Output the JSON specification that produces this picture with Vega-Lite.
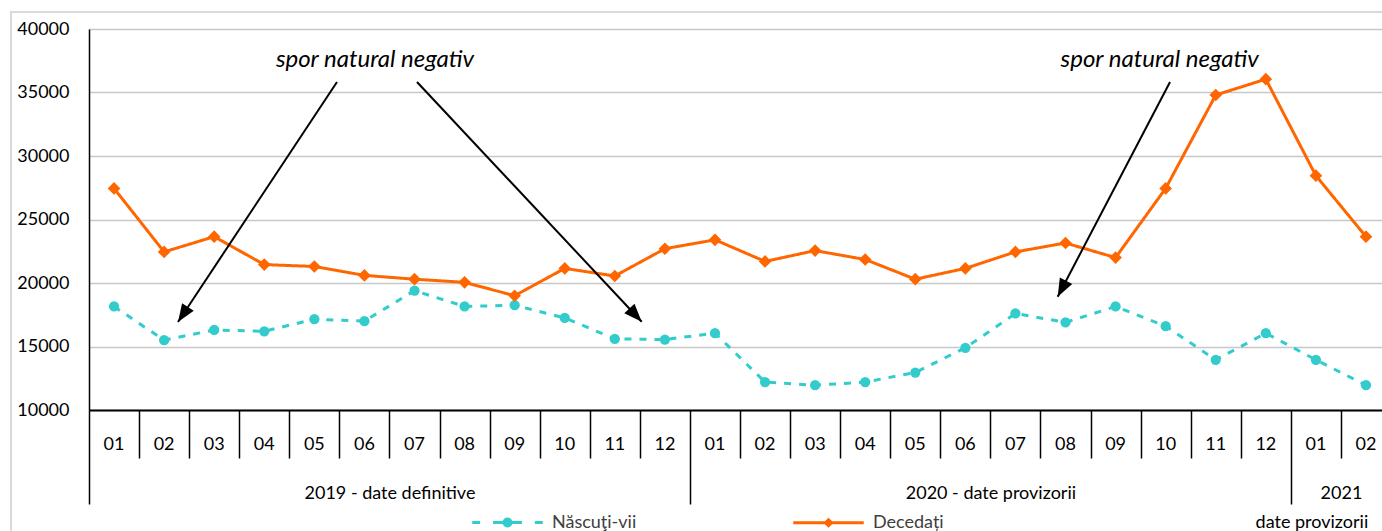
{
  "$schema": "https://vega.github.io/schema/vega-lite/v6.json",
  "autosize": {"type": "none"},
  "padding": {"left": 89, "top": 29, "right": 0, "bottom": 121},
  "width": 1293,
  "height": 381,
  "background": "white",
  "config": {"font": "Lato", "view": {"stroke": null}, "axis": {"labelOverlap": false}},
  "data": {"values": [
    {"i":0,"luna":"01","serie":"Născuţi-vii","v":18150},{"i":1,"luna":"02","serie":"Născuţi-vii","v":15500},{"i":2,"luna":"03","serie":"Născuţi-vii","v":16300},{"i":3,"luna":"04","serie":"Născuţi-vii","v":16200},{"i":4,"luna":"05","serie":"Născuţi-vii","v":17150},{"i":5,"luna":"06","serie":"Născuţi-vii","v":17000},{"i":6,"luna":"07","serie":"Născuţi-vii","v":19400},{"i":7,"luna":"08","serie":"Născuţi-vii","v":18150},{"i":8,"luna":"09","serie":"Născuţi-vii","v":18250},{"i":9,"luna":"10","serie":"Născuţi-vii","v":17250},{"i":10,"luna":"11","serie":"Născuţi-vii","v":15600},{"i":11,"luna":"12","serie":"Născuţi-vii","v":15550},{"i":12,"luna":"01","serie":"Născuţi-vii","v":16050},{"i":13,"luna":"02","serie":"Născuţi-vii","v":12200},{"i":14,"luna":"03","serie":"Născuţi-vii","v":11950},{"i":15,"luna":"04","serie":"Născuţi-vii","v":12200},{"i":16,"luna":"05","serie":"Născuţi-vii","v":12950},{"i":17,"luna":"06","serie":"Născuţi-vii","v":14900},{"i":18,"luna":"07","serie":"Născuţi-vii","v":17600},{"i":19,"luna":"08","serie":"Născuţi-vii","v":16900},{"i":20,"luna":"09","serie":"Născuţi-vii","v":18150},{"i":21,"luna":"10","serie":"Născuţi-vii","v":16600},{"i":22,"luna":"11","serie":"Născuţi-vii","v":13950},{"i":23,"luna":"12","serie":"Născuţi-vii","v":16050},{"i":24,"luna":"01","serie":"Născuţi-vii","v":13950},{"i":25,"luna":"02","serie":"Născuţi-vii","v":11950},
    {"i":0,"luna":"01","serie":"Decedați","v":27450},{"i":1,"luna":"02","serie":"Decedați","v":22450},{"i":2,"luna":"03","serie":"Decedați","v":23650},{"i":3,"luna":"04","serie":"Decedați","v":21450},{"i":4,"luna":"05","serie":"Decedați","v":21300},{"i":5,"luna":"06","serie":"Decedați","v":20600},{"i":6,"luna":"07","serie":"Decedați","v":20300},{"i":7,"luna":"08","serie":"Decedați","v":20050},{"i":8,"luna":"09","serie":"Decedați","v":19000},{"i":9,"luna":"10","serie":"Decedați","v":21150},{"i":10,"luna":"11","serie":"Decedați","v":20550},{"i":11,"luna":"12","serie":"Decedați","v":22700},{"i":12,"luna":"01","serie":"Decedați","v":23400},{"i":13,"luna":"02","serie":"Decedați","v":21700},{"i":14,"luna":"03","serie":"Decedați","v":22550},{"i":15,"luna":"04","serie":"Decedați","v":21850},{"i":16,"luna":"05","serie":"Decedați","v":20300},{"i":17,"luna":"06","serie":"Decedați","v":21150},{"i":18,"luna":"07","serie":"Decedați","v":22450},{"i":19,"luna":"08","serie":"Decedați","v":23150},{"i":20,"luna":"09","serie":"Decedați","v":22000},{"i":21,"luna":"10","serie":"Decedați","v":27450},{"i":22,"luna":"11","serie":"Decedați","v":34800},{"i":23,"luna":"12","serie":"Decedați","v":36050},{"i":24,"luna":"01","serie":"Decedați","v":28450},{"i":25,"luna":"02","serie":"Decedați","v":23650}
  ]},
  "resolve": {"scale": {"color": "independent", "shape": "independent", "size": "independent"}},
  "layer": [
    {
      "data": {"values": [{}]},
      "mark": {"type": "rect", "fill": null, "stroke": "#D9D9D9", "strokeWidth": 2},
      "encoding": {
        "x": {"datum": -2.058, "type": "quantitative"},
        "x2": {"datum": 27},
        "y": {"datum": 41339, "type": "quantitative"},
        "y2": {"datum": 0}
      }
    },
    {
      "mark": {"type": "line", "strokeWidth": 3},
      "encoding": {
        "x": {
          "field": "i", "type": "quantitative",
          "scale": {"domain": [-0.5, 25.32], "nice": false, "zero": false},
          "axis": {
            "title": null,
            "grid": false,
            "values": [-0.5,0.5,1.5,2.5,3.5,4.5,5.5,6.5,7.5,8.5,9.5,10.5,11.5,12.5,13.5,14.5,15.5,16.5,17.5,18.5,19.5,20.5,21.5,22.5,23.5,24.5],
            "labelExpr": "datum.value === 5.5 ? '2019 - date definitive' : datum.value === 17.5 ? '2020 - date provizorii' : datum.value === 24.5 ? '2021' : ''",
            "tickSize": {"condition": {"test": "datum.value === -0.5 || datum.value === 11.5 || datum.value === 23.5", "value": 94}, "value": 48},
            "tickColor": "#000",
            "tickWidth": 1.5,
            "domainColor": "#000",
            "domainWidth": 2,
            "labelPadding": 26,
            "labelFont": "Lato",
            "labelFontSize": 18,
            "labelColor": "#000",
            "labelFlush": false,
            "labelOverlap": false,
            "labelBound": false
          }
        },
        "y": {
          "field": "v", "type": "quantitative",
          "scale": {"domain": [10000, 40000], "nice": false, "zero": false},
          "axis": {
            "title": null,
            "values": [10000,15000,20000,25000,30000,35000,40000],
            "format": "d",
            "grid": true,
            "gridColor": "#C8C8C8",
            "gridWidth": 1.5,
            "ticks": false,
            "domainColor": "#000",
            "domainWidth": 1.5,
            "labelPadding": 20,
            "labelFont": "Lato",
            "labelFontSize": 18,
            "labelColor": "#000"
          }
        },
        "color": {"field": "serie", "type": "nominal", "scale": {"domain": ["Născuţi-vii", "Decedați"], "range": ["#33CCCC", "#FF6600"]}, "legend": null},
        "strokeDash": {"field": "serie", "type": "nominal", "scale": {"domain": ["Născuţi-vii", "Decedați"], "range": [[7, 8], [1, 0]]}, "legend": null}
      }
    },
    {
      "mark": {"type": "point", "filled": true, "opacity": 1, "strokeWidth": 0},
      "encoding": {
        "x": {"field": "i", "type": "quantitative"},
        "y": {"field": "v", "type": "quantitative"},
        "color": {"field": "serie", "type": "nominal", "scale": {"domain": ["Născuţi-vii", "Decedați"], "range": ["#33CCCC", "#FF6600"]}, "legend": null},
        "shape": {"field": "serie", "type": "nominal", "scale": {"domain": ["Născuţi-vii", "Decedați"], "range": ["circle", "diamond"]}, "legend": null},
        "size": {"field": "serie", "type": "nominal", "scale": {"domain": ["Născuţi-vii", "Decedați"], "range": [105, 160]}, "legend": null}
      }
    },
    {
      "mark": {"type": "point", "filled": false, "opacity": 0},
      "encoding": {
        "x": {"field": "i", "type": "quantitative"},
        "y": {"field": "v", "type": "quantitative"},
        "color": {"field": "serie", "type": "nominal", "scale": {"domain": ["Născuţi-vii", "Decedați"], "range": ["#33CCCC", "#FF6600"]},
          "legend": {"title": null, "orient": "none", "legendX": 381, "legendY": 456, "direction": "horizontal", "symbolSize": 5184, "symbolStrokeWidth": 3, "symbolOpacity": 1, "labelFont": "Lato", "labelFontSize": 18, "labelColor": "#404040", "labelOffset": 7, "columnPadding": 150, "padding": 0, "labelLimit": 0}},
        "shape": {"field": "serie", "type": "nominal", "scale": {"domain": ["Născuţi-vii", "Decedați"], "range": [
          "M-0.98,0H-0.76M-0.4,0H0.4M0.76,0H0.98M-0.097,0A0.097,0.097 0 1,0 0.097,0A0.097,0.097 0 1,0 -0.097,0ZM-0.042,0A0.042,0.042 0 1,0 0.042,0A0.042,0.042 0 1,0 -0.042,0Z",
          "M-0.98,0H0.98M0,-0.083L0.083,0L0,0.083L-0.083,0ZM0,-0.03L0.03,0L0,0.03L-0.03,0Z"
        ]},
          "legend": {"title": null, "orient": "none", "legendX": 381, "legendY": 456, "direction": "horizontal", "symbolSize": 5184, "symbolStrokeWidth": 3, "symbolOpacity": 1, "labelFont": "Lato", "labelFontSize": 18, "labelColor": "#404040", "labelOffset": 7, "columnPadding": 150, "padding": 0, "labelLimit": 0}}
      }
    },
    {
      "transform": [{"filter": "datum.serie === 'Decedați'"}],
      "mark": {"type": "text", "font": "Lato", "fontSize": 18, "color": "#000", "align": "center", "baseline": "middle"},
      "encoding": {
        "x": {"field": "i", "type": "quantitative"},
        "y": {"datum": 7244, "type": "quantitative"},
        "text": {"field": "luna"}
      }
    },
    {
      "data": {"values": [
        {"x1": 4.452, "y1": 35827, "x2": 1.277, "y2": 16929},
        {"x1": 6.05, "y1": 35827, "x2": 10.537, "y2": 16953},
        {"x1": 21.087, "y1": 35827, "x2": 18.844, "y2": 18921}
      ]},
      "mark": {"type": "rule", "color": "#000", "strokeWidth": 2},
      "encoding": {
        "x": {"field": "x1", "type": "quantitative"},
        "y": {"field": "y1", "type": "quantitative"},
        "x2": {"field": "x2"},
        "y2": {"field": "y2"}
      }
    },
    {
      "data": {"values": [
        {"x2": 1.277, "y2": 16929, "ang": 213.5},
        {"x2": 10.537, "y2": 16953, "ang": 136.8},
        {"x2": 18.844, "y2": 18921, "ang": 207.6}
      ]},
      "mark": {"type": "point", "filled": true, "color": "#000", "opacity": 1, "strokeWidth": 0, "size": 400, "shape": "M0,0L0.7,1.8L-0.7,1.8Z"},
      "encoding": {
        "x": {"field": "x2", "type": "quantitative"},
        "y": {"field": "y2", "type": "quantitative"},
        "angle": {"field": "ang", "type": "quantitative", "scale": null}
      }
    },
    {
      "data": {"values": [
        {"x": 5.21, "y": 37559, "t": "spor natural negativ"},
        {"x": 20.88, "y": 37559, "t": "spor natural negativ"}
      ]},
      "mark": {"type": "text", "font": "Lato", "fontStyle": "italic", "fontSize": 24, "color": "#000", "align": "center", "baseline": "middle"},
      "encoding": {
        "x": {"field": "x", "type": "quantitative"},
        "y": {"field": "y", "type": "quantitative"},
        "text": {"field": "t"}
      }
    },
    {
      "data": {"values": [{}]},
      "mark": {"type": "text", "font": "Lato", "fontSize": 18, "color": "#000", "align": "center", "baseline": "middle"},
      "encoding": {
        "x": {"datum": 23.92, "type": "quantitative"},
        "y": {"datum": 1102, "type": "quantitative"},
        "text": {"value": "date provizorii"}
      }
    }
  ]
}
